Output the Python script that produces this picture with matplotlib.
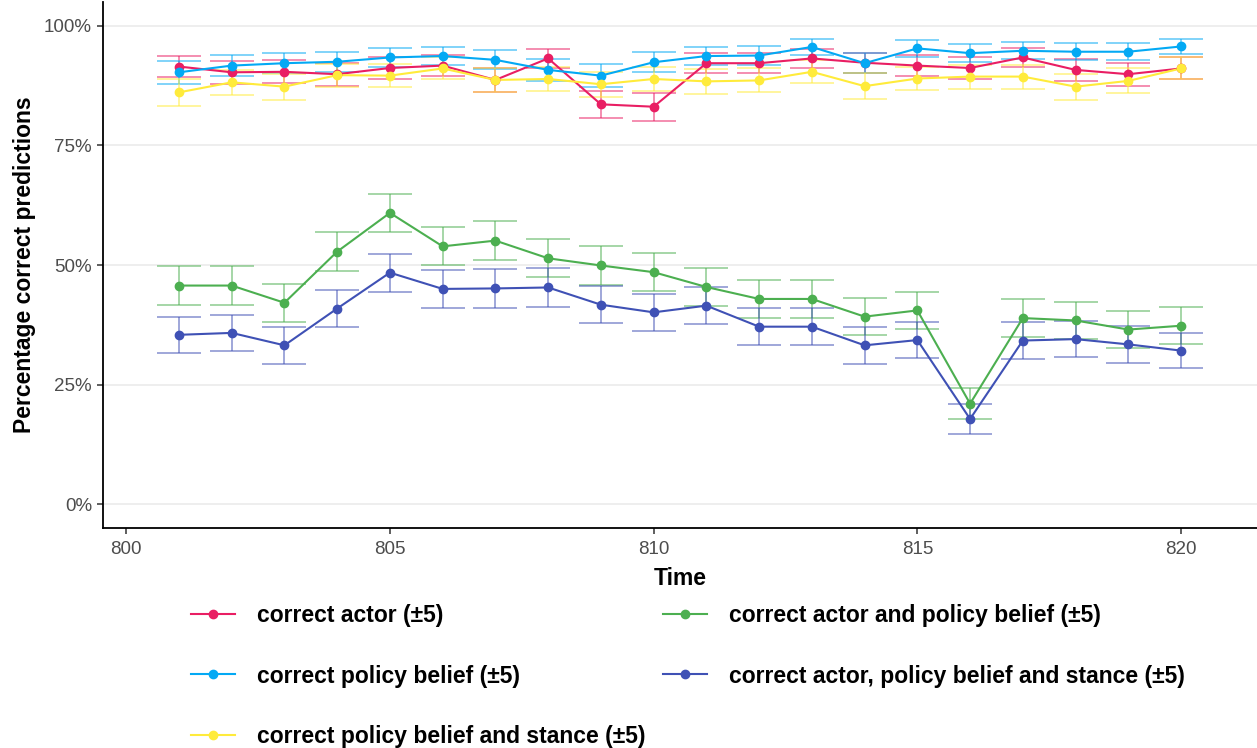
import matplotlib
matplotlib.use("Agg")
import matplotlib.pyplot as plt
from matplotlib.lines import Line2D
from matplotlib.ticker import FuncFormatter

plt.rcParams['font.family'] = ['Liberation Sans', 'DejaVu Sans']

# time steps
time = list(range(801, 821))

# series values (percent)
actor = [91.5, 90.3, 90.4, 89.9, 91.2, 91.7, 88.7, 93.2, 83.6, 83.1,
         92.2, 92.2, 93.2, 92.3, 91.7, 91.2, 93.4, 90.8, 89.9, 91.1]
actor_err = [2.2, 2.4, 2.4, 2.4, 2.2, 2.2, 2.5, 2.0, 2.8, 2.9,
             2.1, 2.1, 2.0, 2.1, 2.2, 2.2, 2.0, 2.3, 2.4, 2.3]

policy = [90.3, 91.7, 92.2, 92.5, 93.4, 93.7, 92.9, 90.8, 89.6, 92.4,
          93.7, 93.8, 95.6, 92.2, 95.3, 94.3, 94.8, 94.6, 94.6, 95.7]
policy_err = [2.4, 2.2, 2.1, 2.1, 2.0, 1.9, 2.0, 2.3, 2.4, 2.1,
              1.9, 1.9, 1.6, 2.1, 1.7, 1.9, 1.8, 1.8, 1.8, 1.6]

policy_stance = [86.1, 88.2, 87.3, 89.7, 89.6, 91.1, 88.7, 88.9, 87.8, 88.9,
                 88.4, 88.6, 90.4, 87.4, 89.0, 89.4, 89.4, 87.3, 88.5, 91.1]
policy_stance_err = [2.8, 2.6, 2.7, 2.4, 2.4, 2.3, 2.5, 2.5, 2.6, 2.5,
                     2.6, 2.5, 2.4, 2.7, 2.5, 2.5, 2.5, 2.7, 2.6, 2.3]

actor_policy = [45.7, 45.7, 42.1, 52.8, 60.9, 53.9, 55.1, 51.4, 49.9, 48.5,
                45.4, 42.9, 42.9, 39.2, 40.5, 21.0, 38.9, 38.4, 36.5, 37.3]
actor_policy_err = [4.0, 4.0, 4.0, 4.0, 3.9, 4.0, 4.0, 4.0, 4.0, 4.0,
                    4.0, 4.0, 4.0, 3.9, 3.9, 3.3, 3.9, 3.9, 3.9, 3.9]

actor_policy_stance = [35.4, 35.8, 33.2, 40.9, 48.4, 45.0, 45.1, 45.3, 41.7, 40.1,
                       41.5, 37.1, 37.1, 33.2, 34.3, 17.8, 34.2, 34.5, 33.4, 32.1]
actor_policy_stance_err = [3.8, 3.8, 3.8, 3.9, 4.0, 4.0, 4.0, 4.0, 3.9, 3.9,
                           3.9, 3.9, 3.9, 3.8, 3.8, 3.1, 3.8, 3.8, 3.8, 3.7]

# draw order (alphabetical, as ggplot does)
series = [
    ("correct actor (±5)", actor, actor_err, "#E91E63"),
    ("correct actor and policy belief (±5)", actor_policy, actor_policy_err, "#4CAF50"),
    ("correct actor, policy belief and stance (±5)", actor_policy_stance, actor_policy_stance_err, "#3F51B5"),
    ("correct policy belief (±5)", policy, policy_err, "#03A9F4"),
    ("correct policy belief and stance (±5)", policy_stance, policy_stance_err, "#FFEB3B"),
]
legend_order = [0, 3, 4, 1, 2]

fig = plt.figure(figsize=(12.57, 7.48), dpi=100)
ax = fig.add_axes([103 / 1257, 1 - 528 / 748, 1 - 103 / 1257, 526 / 748])

handles = []
for label, vals, err, col in series:
    ax.errorbar(time, vals, yerr=err, fmt='none', ecolor=col, alpha=0.5,
                elinewidth=1.4, capsize=16, capthick=1.4, zorder=2)
for label, vals, err, col in series:
    ax.plot(time, vals, color=col, lw=1.5, zorder=3)
    ax.plot(time, vals, 'o', color=col, ms=6, zorder=4)
    handles.append(Line2D([], [], color=col, lw=1.5, marker='o', ms=6, label=label))

ax.set_xlim(799.56, 821.44)
ax.set_ylim(-5, 105)
ax.set_xticks([800, 805, 810, 815, 820])
ax.set_yticks([0, 25, 50, 75, 100])
ax.yaxis.set_major_formatter(FuncFormatter(lambda v, p: f"{v:.0f}%"))
ax.grid(axis='y', color='#EBEBEB', lw=1.2)
ax.set_axisbelow(True)
for s in ['top', 'right']:
    ax.spines[s].set_visible(False)
for s in ['left', 'bottom']:
    ax.spines[s].set_linewidth(1.3)
ax.tick_params(axis='both', length=4, width=1.1, color='#333333',
               labelsize=13.5, labelcolor='#4D4D4D', pad=4)
ax.tick_params(axis='x', pad=5)

ax.set_xlabel("Time", fontsize=16.5, fontweight='bold', labelpad=7)
ax.set_ylabel("Percentage correct predictions", fontsize=16.5, fontweight='bold', labelpad=6)

fig.legend([handles[i] for i in legend_order], [series[i][0] for i in legend_order],
           loc='center', bbox_to_anchor=(688 / 1257, 1 - 676 / 748), ncol=2,
           frameon=False, prop={'size': 16.5, 'weight': 'bold'},
           handlelength=1.9, handletextpad=0.96, labelspacing=1.62, columnspacing=0.8)

fig.savefig("out.png", dpi=100)
